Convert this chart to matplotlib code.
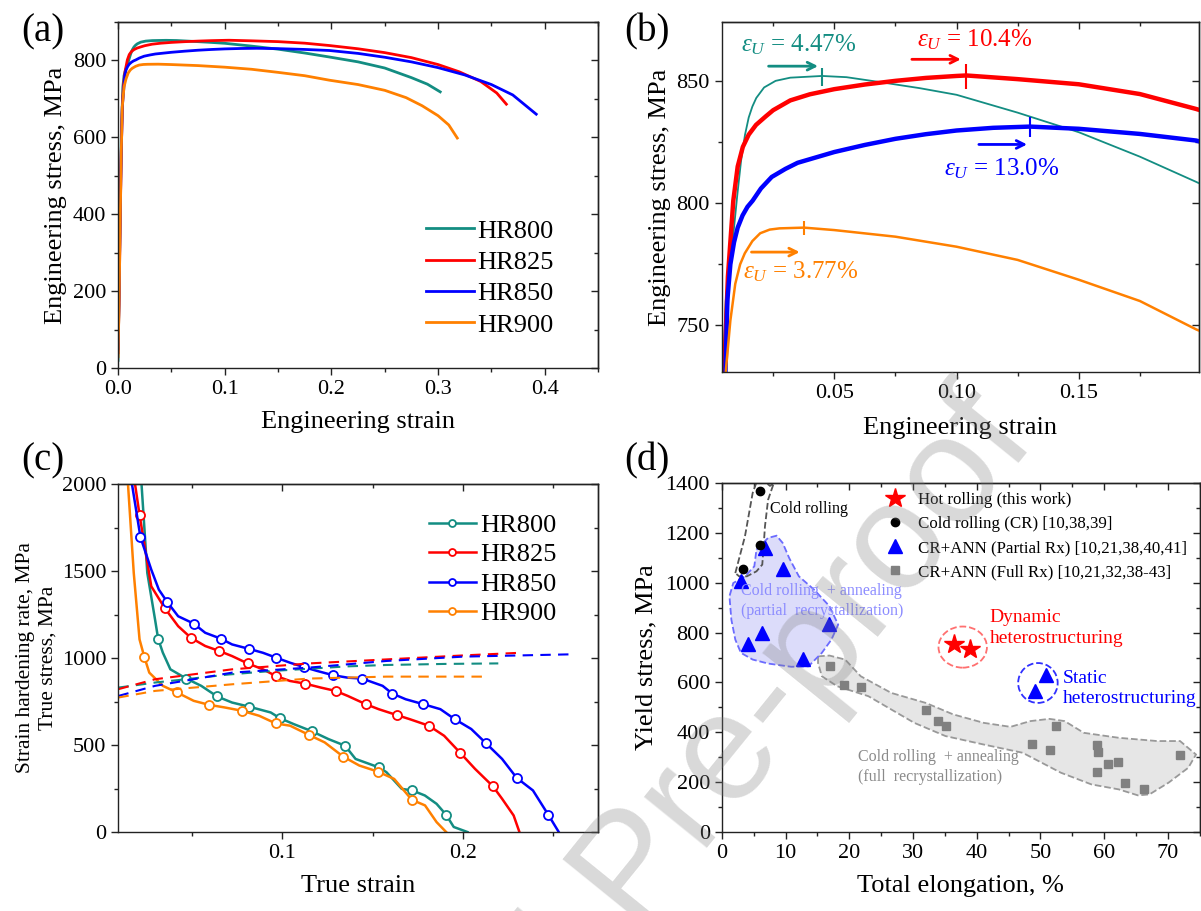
import matplotlib
matplotlib.use('Agg')
import matplotlib.pyplot as plt
from matplotlib.patches import Polygon, Ellipse
from matplotlib.lines import Line2D

plt.rcParams['font.family'] = ['Liberation Serif', 'DejaVu Serif']
plt.rcParams['mathtext.fontset'] = 'custom'
plt.rcParams['mathtext.rm'] = 'Liberation Serif'
plt.rcParams['mathtext.it'] = 'Liberation Serif:italic'
plt.rcParams['axes.linewidth'] = 1.0
plt.rcParams['axes.edgecolor'] = '#222222'

# colours
c800 = '#138d82'
c825 = '#ff0000'
c850 = '#0000ff'
c900 = '#ff8000'

names = ['HR800', 'HR825', 'HR850', 'HR900']
colors = [c800, c825, c850, c900]

# ---------------- engineering stress-strain (a, b) ----------------
hr800_strain = [0.0, 0.001, 0.002, 0.003, 0.0045, 0.0056, 0.007, 0.0087, 0.0103, 0.0119, 0.0135, 0.015,
                0.0165, 0.0181, 0.0213, 0.026, 0.032, 0.045, 0.055, 0.07, 0.085, 0.1, 0.125, 0.15, 0.175,
                0.198, 0.225, 0.25, 0.275, 0.29, 0.302]
hr800_stress = [20, 200, 420, 600, 731, 760, 775, 787, 803, 817.5, 828, 835,
                839.5, 843, 847.3, 850, 851.3, 852, 851.5, 849.3, 847, 844.3, 837, 829, 819,
                808.7, 796, 780, 755, 738, 718]

hr825_strain = [0.0, 0.001, 0.002, 0.003, 0.004, 0.005, 0.0065, 0.0087, 0.0105, 0.0126, 0.015, 0.018,
                0.022, 0.025, 0.032, 0.04, 0.05, 0.0625, 0.075, 0.0875, 0.1, 0.104, 0.125, 0.15, 0.175,
                0.198, 0.225, 0.25, 0.275, 0.3, 0.32, 0.34, 0.355, 0.364]
hr825_stress = [40, 180, 380, 560, 680, 731, 770, 801, 815, 823, 828, 832,
                835.5, 838, 842, 844.5, 846.6, 848.5, 850, 851.2, 852, 852.2, 850.7, 848.6, 844.6,
                838.5, 830, 820, 807, 789, 770, 745, 715, 686]

hr850_strain = [0.0, 0.001, 0.002, 0.003, 0.004, 0.0055, 0.0063, 0.0075, 0.009, 0.0105, 0.0125, 0.0145,
                0.0166, 0.02, 0.0244, 0.03, 0.035, 0.05, 0.0625, 0.075, 0.0875, 0.1, 0.115, 0.13, 0.15,
                0.175, 0.198, 0.225, 0.25, 0.275, 0.3, 0.325, 0.35, 0.37, 0.392]
hr850_stress = [50, 200, 400, 560, 680, 731, 760.6, 775, 784, 790, 795, 798.5,
                801, 806, 810.7, 814, 816.5, 820.9, 823.8, 826.3, 828.2, 829.7, 830.8, 831.3, 830.4,
                828.3, 825.6, 818, 808, 796, 781, 762, 737, 710, 660]

hr900_strain = [0.0, 0.001, 0.002, 0.003, 0.004, 0.0056, 0.0075, 0.0095, 0.0115, 0.0134, 0.0165, 0.0197,
                0.0236, 0.0276, 0.0376, 0.05, 0.075, 0.1, 0.125, 0.15, 0.175, 0.198, 0.225, 0.25, 0.27,
                0.285, 0.3, 0.31, 0.318]
hr900_stress = [30, 180, 380, 560, 680, 731, 752, 767, 775, 779.5, 784.5, 787.7,
                789.2, 789.7, 790, 789, 786.3, 782.2, 776.8, 768.7, 760, 748.4, 737, 722, 703,
                682, 656, 632, 598]

eng_strain = [hr800_strain, hr825_strain, hr850_strain, hr900_strain]
eng_stress = [hr800_stress, hr825_stress, hr850_stress, hr900_stress]

# uniform elongation (panel b)
uts_strain = [0.045, 0.104, 0.130, 0.0376]
uts_stress = [851.5, 852, 831, 790]
uts_labels = ['4.47%', '10.4%', '13.0%', '3.77%']

# ---------------- strain hardening (c) ----------------
sh800_x = [0.022, 0.0252, 0.0295, 0.0312, 0.0338, 0.038, 0.0468, 0.0551, 0.0639, 0.0722, 0.0814, 0.0936,
           0.0989, 0.1064, 0.1162, 0.1256, 0.1348, 0.1406, 0.1534, 0.1577, 0.1662, 0.172, 0.179, 0.1855,
           0.1908, 0.195, 0.2026]
sh800_y = [2000, 1489, 1221, 1111, 1031, 935, 882, 840, 779, 744, 721, 687,
           653, 620, 580, 534, 496, 420, 372, 344, 248, 239, 210, 162,
           99, 29, 0]
sh800_mk = [3, 6, 8, 10, 12, 14, 16, 18, 21, 24]

sh825_x = [0.0184, 0.0209, 0.0274, 0.0348, 0.0423, 0.0494, 0.0573, 0.0652, 0.0722, 0.0808, 0.0893, 0.0964,
           0.1043, 0.1126, 0.1214, 0.1295, 0.1363, 0.1462, 0.1534, 0.1635, 0.1705, 0.1812, 0.1897, 0.1987,
           0.2068, 0.2167, 0.2218, 0.2282, 0.2314]
sh825_y = [2000, 1823, 1412, 1288, 1183, 1116, 1069, 1040, 1011, 969, 935, 897,
           868, 853, 830, 811, 782, 735, 706, 672, 649, 611, 553, 454,
           363, 263, 191, 95, 0]
sh825_mk = [1, 3, 5, 7, 9, 11, 13, 15, 17, 19, 21, 23, 25]

sh850_x = [0.0167, 0.0214, 0.0274, 0.0316, 0.0363, 0.0423, 0.0509, 0.0573, 0.066, 0.0722, 0.0814, 0.0893,
           0.0966, 0.1043, 0.1122, 0.1192, 0.1282, 0.1363, 0.1442, 0.1556, 0.1609, 0.1684, 0.178, 0.1876,
           0.1955, 0.2047, 0.2128, 0.2218, 0.2299, 0.2389, 0.2474, 0.2532]
sh850_y = [2000, 1695, 1508, 1393, 1321, 1240, 1198, 1145, 1111, 1078, 1053, 1030,
           1002, 973, 947, 926, 901, 887, 882, 840, 796, 763, 735, 706,
           649, 592, 511, 420, 311, 239, 99, 0]
sh850_mk = [1, 4, 6, 8, 10, 12, 14, 16, 18, 20, 22, 24, 26, 28, 30]

sh900_x = [0.0145, 0.0177, 0.0209, 0.0235, 0.0263, 0.0338, 0.0417, 0.0509, 0.0594, 0.068, 0.0776, 0.0872,
           0.0964, 0.1043, 0.115, 0.1235, 0.1338, 0.1427, 0.153, 0.162, 0.1718, 0.1791, 0.1855, 0.1908]
sh900_y = [2000, 1489, 1107, 1008, 916, 840, 802, 754, 731, 716, 697, 668,
           624, 611, 557, 515, 433, 382, 347, 305, 185, 153, 57, 0]
sh900_mk = [3, 6, 8, 10, 12, 14, 16, 18, 20]

sh_x = [sh800_x, sh825_x, sh850_x, sh900_x]
sh_y = [sh800_y, sh825_y, sh850_y, sh900_y]
sh_mk = [sh800_mk, sh825_mk, sh850_mk, sh900_mk]

# true stress (dashed)
ts800_x = [0.0092, 0.0295, 0.0466, 0.07, 0.0936, 0.1363, 0.1577, 0.19, 0.2197]
ts800_y = [830, 859, 878, 905, 925, 952, 960, 966, 969]
ts825_x = [0.0092, 0.0295, 0.0722, 0.115, 0.1577, 0.2004, 0.2335]
ts825_y = [821, 878, 935, 969, 992, 1015, 1031]
ts850_x = [0.0092, 0.0295, 0.0722, 0.115, 0.1577, 0.2004, 0.2592]
ts850_y = [782, 840, 916, 945, 983, 1008, 1021]
ts900_x = [0.0092, 0.0295, 0.0722, 0.115, 0.1577, 0.2143]
ts900_y = [773, 811, 849, 882, 893, 893]
ts_x = [ts800_x, ts825_x, ts850_x, ts900_x]
ts_y = [ts800_y, ts825_y, ts850_y, ts900_y]

# ---------------- yield stress vs elongation (d) ----------------
hot_el = [36.4, 39.0]
hot_ys = [756, 735]
cr_el = [3.33, 6.05, 6.05]
cr_ys = [1055, 1151, 1367]
part_el = [3.0, 6.77, 9.67, 4.1, 6.35, 12.7, 16.75, 50.8, 49.15]
part_ys = [1006, 1139, 1055, 756, 799, 696, 836, 632, 565]
full_el = [16.9, 19.2, 21.8, 32.0, 33.9, 35.2, 48.7, 51.5, 52.5, 58.8, 59.1, 58.8, 60.6, 62.2, 63.2, 66.3, 71.9]
full_ys = [668, 588, 582, 489, 445, 427, 355, 329, 427, 351, 321, 242, 271, 282, 198, 171, 309]

cold_region = [(2.12, 1039), (3.63, 1186), (4.84, 1360), (5.44, 1403), (6.65, 1407), (7.56, 1389),
               (8.16, 1400), (7.26, 1333), (6.77, 1226), (6.53, 1133), (6.35, 1073), (5.44, 1046),
               (3.93, 1026), (2.72, 1026)]
partial_region = [(5.44, 1133), (7.26, 1180), (8.59, 1189), (9.55, 1160), (10.58, 1099), (12.09, 1026),
                  (14.5, 972), (16.9, 906), (18.26, 832), (17.2, 772), (15.7, 719), (13.6, 665),
                  (10.9, 663), (7.26, 676), (4.84, 692), (3.0, 719), (2.12, 772), (1.5, 852),
                  (1.2, 946), (1.8, 999), (3.63, 1026), (5.1, 1066)]
full_region = [(15.1, 705), (16.9, 708), (19.35, 692), (21.8, 625), (26.6, 558), (32.0, 518), (36.3, 472),
               (41.1, 438), (45.3, 422), (48.4, 445), (51.4, 454), (53.8, 445), (56.8, 398), (62.3, 378),
               (68.3, 365), (71.9, 365), (74.4, 311), (73.2, 258), (70.1, 198), (67.1, 151), (65.3, 147),
               (62.3, 171), (58.0, 191), (53.2, 238), (47.2, 318), (41.1, 351), (35.1, 385), (30.2, 438),
               (23.0, 545), (18.1, 585), (15.7, 625), (15.1, 678)]


def frame(ax, xmaj, xmin, ymaj, ymin, xlab=None):
    ax.set_xticks(xmaj)
    if xlab is not None:
        ax.set_xticklabels(xlab)
    ax.set_xticks(xmin, minor=True)
    ax.set_yticks(ymaj)
    ax.set_yticks(ymin, minor=True)
    ax.tick_params(which='both', direction='out', labelsize=16, width=1, colors='#222222',
                   labelcolor='black')
    ax.tick_params(which='major', length=5)
    ax.tick_params(which='minor', length=3)
    sx = ax.secondary_xaxis('top')
    sx.set_xticks(xmaj, labels=[])
    sx.set_xticks(xmin, minor=True)
    sx.tick_params(which='both', direction='in', width=1, colors='#222222')
    sx.tick_params(which='major', length=5)
    sx.tick_params(which='minor', length=3)
    sy = ax.secondary_yaxis('right')
    sy.set_yticks(ymaj, labels=[])
    sy.set_yticks(ymin, minor=True)
    sy.tick_params(which='both', direction='in', width=1, colors='#222222')
    sy.tick_params(which='major', length=5)
    sy.tick_params(which='minor', length=3)


fig = plt.figure(figsize=(12.01, 9.11), dpi=100)
ax_a = fig.add_axes([0.0983, 0.596, 0.3997, 0.380])
ax_b = fig.add_axes([0.601, 0.5917, 0.397, 0.384])
ax_c = fig.add_axes([0.0983, 0.0867, 0.3997, 0.382])
ax_d = fig.add_axes([0.601, 0.0867, 0.398, 0.383])

# ---- (a)
for x, y, c, n in zip(eng_strain, eng_stress, colors, names):
    ax_a.plot(x, y, color=c, lw=2, label=n)
ax_a.set_xlim(0, 0.45)
ax_a.set_ylim(0, 900)
frame(ax_a, [0, 0.1, 0.2, 0.3, 0.4], [0.05, 0.15, 0.25, 0.35, 0.45],
      [0, 200, 400, 600, 800], [100, 300, 500, 700, 900],
      ['0.0', '0.1', '0.2', '0.3', '0.4'])
ax_a.set_xlabel('Engineering strain', fontsize=19, labelpad=9)
ax_a.set_ylabel('Engineering stress, MPa', fontsize=19, labelpad=4)
ax_a.legend(loc='lower right', bbox_to_anchor=(0.93, 0.06), frameon=False, fontsize=19,
            handlelength=1.8, handletextpad=0.15, labelspacing=0.3, borderaxespad=0)

# ---- (b)
lws = [1.3, 3.2, 3.2, 1.8]
for x, y, c, lw in zip(eng_strain, eng_stress, colors, lws):
    ax_b.plot(x, y, color=c, lw=lw)
ax_b.set_xlim(0.004, 0.199)
ax_b.set_ylim(731, 874)
frame(ax_b, [0.05, 0.10, 0.15], [0.025, 0.075, 0.125, 0.175],
      [750, 800, 850], [775, 825], ['0.05', '0.10', '0.15'])
ax_b.set_xlabel('Engineering strain', fontsize=19, labelpad=10)
ax_b.set_ylabel('Engineering stress, MPa', fontsize=19, labelpad=4)
tick_h = [13, 18, 15, 10]
for ux, uy, c, h in zip(uts_strain, uts_stress, colors, tick_h):
    ax_b.plot([ux], [uy], marker='|', ms=h, mew=1.5, color=c)
arrows = [((0.022, 856), (0.0445, 856)), ((0.0806, 858.8), (0.1029, 858.8)),
          ((0.108, 824), (0.130, 824)), ((0.015, 780), (0.037, 780))]
for (p0, p1), c in zip(arrows, colors):
    ax_b.annotate('', xy=p1, xytext=p0,
                  arrowprops=dict(arrowstyle='->', color=c, lw=2, mutation_scale=14))
txt_pos = [(0.0119, 864.9), (0.0838, 867), (0.095, 814), (0.0126, 772)]
for (tx, ty), c, s in zip(txt_pos, colors, uts_labels):
    ax_b.text(tx, ty, r'$\varepsilon_U$ = ' + s, color=c, fontsize=18, va='center', ha='left')

# ---- (c)
for x, y, c, n, mk in zip(sh_x, sh_y, colors, names, sh_mk):
    ax_c.plot(x, y, color=c, lw=1.8, marker='o', ms=6.5, mfc='white', mec=c, mew=1.3,
              markevery=mk, label=n)
for x, y, c in zip(ts_x, ts_y, colors):
    ax_c.plot(x, y, color=c, lw=1.5, ls=(0, (5, 3.5)))
ax_c.set_xlim(0.009, 0.275)
ax_c.set_ylim(0, 2000)
frame(ax_c, [0.1, 0.2], [0.05, 0.15, 0.25], [0, 500, 1000, 1500, 2000], [250, 750, 1250, 1750],
      ['0.1', '0.2'])
ax_c.set_xlabel('True strain', fontsize=19, labelpad=9)
ax_c.set_ylabel('Strain hardening rate, MPa\nTrue stress, MPa', fontsize=15.5, labelpad=3,
                linespacing=1.25)
handles = [Line2D([], [], color=c, lw=1.8, marker='o', ms=5, mfc='white', mec=c, mew=1.3)
           for c in colors]
ax_c.legend(handles, names, loc='upper right', bbox_to_anchor=(0.935, 0.945), frameon=False,
            fontsize=19, handlelength=1.8, handletextpad=0.15, labelspacing=0.22, borderaxespad=0)

# ---- (d)
ax_d.add_patch(Polygon(full_region, closed=True, facecolor='#e6e6e6', edgecolor='#999999',
                       ls='--', lw=1.3, zorder=1))
ax_d.add_patch(Polygon(partial_region, closed=True, facecolor='#dcdcfa', edgecolor='#6b6bff',
                       ls='--', lw=1.3, zorder=1))
ax_d.add_patch(Polygon(cold_region, closed=True, facecolor='none', edgecolor='#555555',
                       ls='--', lw=1.3, zorder=1))
ax_d.add_patch(Ellipse((37.8, 742), 7.6, 165, facecolor='none', edgecolor='#ff7070', ls='--', lw=1.3))
ax_d.add_patch(Ellipse((49.6, 598), 6.2, 160, facecolor='none', edgecolor='#3030ff', ls='--', lw=1.3))
h1, = ax_d.plot(hot_el, hot_ys, ls='none', marker='*', ms=15, color='red', zorder=4,
                label='Hot rolling (this work)')
h2, = ax_d.plot(cr_el, cr_ys, ls='none', marker='o', ms=6, color='black', zorder=4,
                label='Cold rolling (CR) [10,38,39]')
h3, = ax_d.plot(part_el, part_ys, ls='none', marker='^', ms=10, color='#0000ff', zorder=3,
                label='CR+ANN (Partial Rx) [10,21,38,40,41]')
h4, = ax_d.plot(full_el, full_ys, ls='none', marker='s', ms=6, color='#808080', zorder=3,
                label='CR+ANN (Full Rx) [10,21,32,38-43]')
ax_d.set_xlim(0, 75)
ax_d.set_ylim(0, 1400)
frame(ax_d, list(range(0, 80, 10)), list(range(5, 80, 10)), list(range(0, 1600, 200)),
      list(range(100, 1500, 200)))
ax_d.set_xlabel('Total elongation, %', fontsize=19, labelpad=9)
ax_d.set_ylabel('Yield stress, MPa', fontsize=19, labelpad=6)
ax_d.legend(handles=[h1, h2, h3, h4], loc='upper left', bbox_to_anchor=(0.335, 0.985), frameon=False,
            fontsize=12.2, handlelength=1.2, handletextpad=0.7, labelspacing=0.48, borderaxespad=0,
            borderpad=0.2)
ax_d.text(7.5, 1295, 'Cold rolling', fontsize=11.5, va='center')
ax_d.text(3.0, 926, 'Cold rolling  + annealing\n(partial  recrystallization)', fontsize=11.5,
          color='#8c8cff', va='center', linespacing=1.35)
ax_d.text(21.3, 260, 'Cold rolling  + annealing\n(full  recrystallization)', fontsize=11.5,
          color='#8a8a8a', va='center', linespacing=1.35)
ax_d.text(42.0, 820, 'Dynamic\nheterostructuring', fontsize=14, color='red', va='center',
          linespacing=1.3)
ax_d.text(53.5, 576, 'Static\nheterostructuring', fontsize=14, color='#0000ff', va='center',
          linespacing=1.3)

# panel labels
for lab, x, y in [('(a)', 0.018, 0.955), ('(b)', 0.52, 0.955), ('(c)', 0.018, 0.484), ('(d)', 0.52, 0.484)]:
    fig.text(x, y, lab, fontsize=28)

# watermark
fig.text(0.8636, 0.5164, 'Journal Pre-proof', rotation=51, rotation_mode='anchor', ha='right',
         va='baseline', fontsize=110, family='Liberation Sans', color='#808080', alpha=0.3,
         zorder=10)

fig.savefig('out.png', dpi=100)
